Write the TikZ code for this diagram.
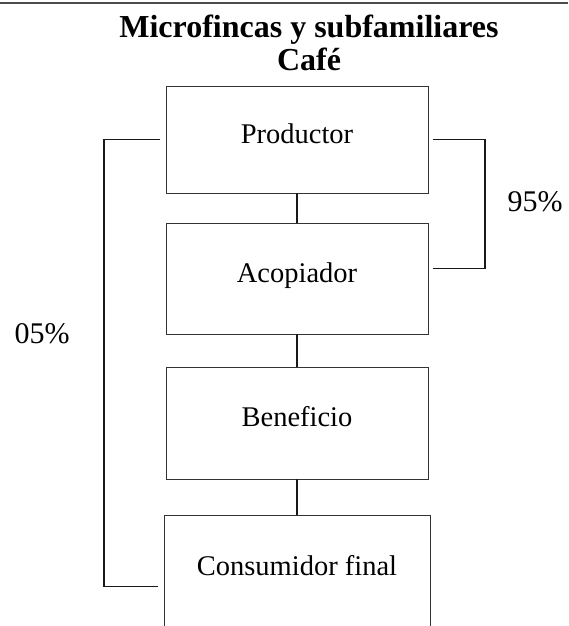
\documentclass[tikz,border=0pt]{standalone}
\usepackage{fontspec}
\setmainfont{Liberation Serif}
\usetikzlibrary{positioning}

\begin{document}
\begin{tikzpicture}[
    x=1pt, y=-1pt,
    box/.style={draw=black!80, line width=0.9pt, inner sep=0pt, outer sep=0pt,
      minimum width=262pt, text height=22pt, text depth=15pt,
      font=\fontsize{28.5}{34}\selectfont},
    link/.style={draw=black!90, line width=1.1pt},
    pct/.style={font=\fontsize{30}{36}\selectfont, inner sep=0pt}
  ]
    \clip (0,0) rectangle (568,626);
    \draw[line width=2pt, black!70] (0,3) -- (568,3);
    \node[align=center, inner sep=0pt, font=\fontsize{32}{33}\selectfont\bfseries] (title) at (309,42.5)
      {Microfincas y subfamiliares\\Café};
    \node[box, minimum height=107pt] (prod) at (297,139.5) {Productor};
    \node[box, minimum height=111pt, below=30pt of prod] (acop) {Acopiador};
    \node[box, minimum height=112pt, below=33pt of acop] (benef) {Beneficio};
    \node[box, minimum height=113pt, minimum width=266pt, below=36pt of benef] (cons) {Consumidor final};
    \draw[link] (prod) -- (acop);
    \draw[link] (acop) -- (benef);
    \draw[link] (benef) -- (cons);
    \draw[link, shorten <=5pt, shorten >=5pt] (prod.east) -- ++(57,0) |- ([yshift=10pt]acop.east);
    \draw[link, shorten <=6pt, shorten >=6pt] (prod.west) -- ++(-62,0) |- ([yshift=-15pt]cons.west);
    \node[pct] (p95) at (535,202) {95\%};
    \node[pct] (p05) at (42,334) {05\%};
  \end{tikzpicture}
\end{document}
